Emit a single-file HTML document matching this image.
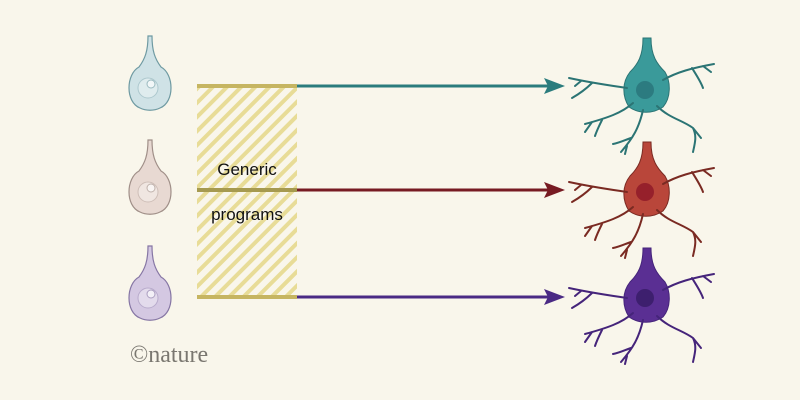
<!DOCTYPE html>
<html><head><meta charset="utf-8"><style>
html,body{margin:0;padding:0;background:#f9f6eb;}
svg{display:block}
</style></head><body>
<svg width="800" height="400" viewBox="0 0 800 400" xmlns="http://www.w3.org/2000/svg">
<defs>
<pattern id="h" patternUnits="userSpaceOnUse" width="10" height="10" patternTransform="rotate(45)">
<rect width="10" height="10" fill="#f9f6eb"/><rect width="4" height="10" fill="#e8dc97"/>
</pattern>
<g id="neuron">
<path d="M-4,-50 L4,-50 C4,-32 10,-24 18,-16 C24,-6 24,10 16,19 C6,26 -8,26 -18,19 C-25,8 -25,-6 -17,-16 C-9,-24 -4,-32 -4,-50Z"/>
<g fill="none" stroke-width="2" stroke-linecap="round">
<path d="M-20,0 C-40,-3 -55,-5 -78,-10 M-55,-5 C-62,2 -68,6 -75,10 M-66,-7 L-72,-2"/>
<path d="M16,-8 C30,-16 45,-20 67,-24 M45,-20 C50,-12 54,-6 56,0 M56,-22 L64,-16"/>
<path d="M-14,15 C-25,25 -40,30 -62,36 M-45,32 C-48,38 -50,42 -52,48 M-55,34 L-62,44"/>
<path d="M-4,22 C-8,40 -14,50 -26,64 M-16,50 C-22,52 -28,55 -34,56 M-20,58 L-22,66"/>
<path d="M10,18 C22,30 35,32 46,40 C50,48 48,55 46,64 M46,40 L54,50"/>
</g>
</g>
<g id="drop">
<path d="M-2,-50 L2,-50 C2,-35 5,-27 11,-19 C24,-12 25,16 10,22 C4,25 -4,25 -10,22 C-25,16 -24,-12 -11,-19 C-5,-27 -2,-35 -2,-50Z" stroke-width="1.2"/>
<circle cx="-2" cy="2" r="10" opacity="0.35" fill="#fff"/>
<circle cx="1" cy="-2" r="4" opacity="0.6" fill="#fff"/>
</g>
</defs>
<rect width="800" height="400" fill="#f9f6eb"/>
<use href="#drop" x="150" y="86" fill="#cfe2e6" stroke="#6f9aa2"/>
<use href="#drop" x="150" y="190" fill="#e8d9d2" stroke="#a08f88"/>
<use href="#drop" x="150" y="296" fill="#d4c8e2" stroke="#8676a4"/>
<rect x="197" y="86" width="100" height="211" fill="url(#h)"/>
<rect x="197" y="84" width="100" height="4" fill="#c6b561"/>
<rect x="197" y="188" width="100" height="4" fill="#a69a50"/>
<rect x="197" y="295" width="100" height="4" fill="#c6b561"/>
<text x="247" y="175" font-family="Liberation Sans, sans-serif" font-size="17" text-anchor="middle" fill="#111">Generic</text>
<text x="247" y="220" font-family="Liberation Sans, sans-serif" font-size="17" text-anchor="middle" fill="#111">programs</text>
<g stroke-width="3">
<line x1="297" y1="86" x2="550" y2="86" stroke="#2b7c7d"/>
<line x1="297" y1="190" x2="550" y2="190" stroke="#771b22"/>
<line x1="297" y1="297" x2="550" y2="297" stroke="#4a2a84"/>
</g>
<polygon points="544,78 565,86 544,94 548,86" fill="#2b7c7d"/>
<polygon points="544,182 565,190 544,198 548,190" fill="#771b22"/>
<polygon points="544,289 565,297 544,305 548,297" fill="#4a2a84"/>
<use href="#neuron" x="647" y="88" fill="#3a9a9a" stroke="#2b7474"/>
<circle cx="645" cy="90" r="9" fill="#2c7b80"/>
<use href="#neuron" x="647" y="192" fill="#b9463a" stroke="#7a2a22"/>
<circle cx="645" cy="192" r="9" fill="#96202b"/>
<use href="#neuron" x="647" y="298" fill="#5a2f93" stroke="#45247a"/>
<circle cx="645" cy="298" r="9" fill="#3d1f6e"/>
<text x="130" y="362" font-family="Liberation Serif, serif" font-size="24" fill="#7a7770">©nature</text>
</svg>
</body></html>
